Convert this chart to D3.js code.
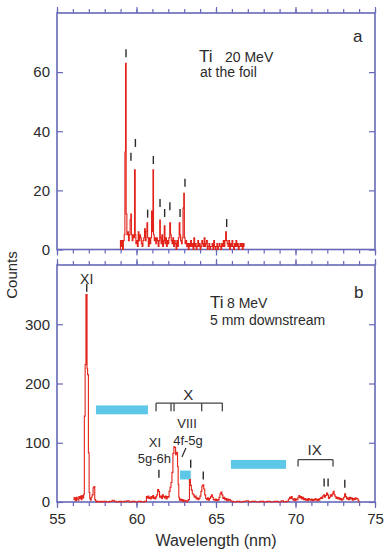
<!DOCTYPE html>
<html><head><meta charset="utf-8">
<script src="https://cdn.jsdelivr.net/npm/d3@7"></script>
<style>
body{margin:0;background:#fff}
svg{display:block}
text{font-family:"Liberation Sans",Arial,Helvetica,sans-serif}
</style>
</head><body>
<svg id="c" width="388" height="550"></svg>
<script>
// ---------- DATA ----------
const topLambda = [58.98,59.0,59.05,59.1,59.15,59.2,59.25,59.29,59.33,59.37,59.42,59.47,59.52,59.57,59.62,59.66,59.70,59.75,59.80,59.85,59.90,59.94,59.98,60.03,60.08,60.13,60.18,60.23,60.28,60.33,60.38,60.43,60.48,60.53,60.58,60.63,60.68,60.72,60.77,60.82,60.87,60.92,60.97,61.02,61.05,61.09,61.14,61.19,61.24,61.29,61.34,61.39,61.44,61.48,61.52,61.57,61.62,61.67,61.72,61.77,61.81,61.86,61.91,61.96,62.01,62.06,62.12,62.16,62.21,62.26,62.31,62.36,62.41,62.46,62.51,62.56,62.61,62.66,62.71,62.75,62.80,62.85,62.90,62.95,62.99,63.03,63.08,63.13,63.18,63.23,63.28,63.33,63.38,63.43,63.48,63.53,63.58,63.63,63.68,63.73,63.78,63.83,63.88,63.93,63.98,64.03,64.08,64.13,64.18,64.23,64.28,64.33,64.38,64.43,64.48,64.53,64.58,64.63,64.68,64.73,64.78,64.83,64.88,64.93,64.98,65.03,65.08,65.13,65.18,65.23,65.28,65.33,65.38,65.43,65.48,65.53,65.58,65.63,65.68,65.73,65.78,65.83,65.88,65.93,65.98,66.03,66.08,66.13,66.18,66.23,66.28,66.33,66.38,66.43,66.48,66.53,66.58,66.63,66.68,66.73,66.80];
const topCounts = [0,3,1,3,0,3,5,33,63,12,5,6,3,5,10,12,5,3,5,4,27,5,2,3,1,6,3,5,4,2,1,3,4,7,3,6,9,4,1,4,2,4,13,6,27,5,3,4,2,4,3,1,3,10,4,2,5,1,3,8,2,4,1,3,2,4,9,5,3,2,4,1,3,2,0,3,1,4,9,5,3,2,4,14,19,4,2,3,1,2,0,2,1,3,1,2,0,4,1,2,0,1,3,1,2,0,1,3,2,1,4,1,2,3,0,1,2,0,1,1,2,0,3,1,0,1,2,0,1,2,1,0,2,1,3,1,3,6,3,2,1,3,0,2,1,3,1,0,2,1,3,1,2,0,1,2,1,2,0,2,1];

const botLambda = [56.05,56.1,56.15,56.2,56.25,56.3,56.35,56.4,56.45,56.5,56.55,56.6,56.65,56.7,56.74,56.8,56.84,56.88,56.9,56.95,57.0,57.04,57.08,57.12,57.18,57.24,57.3,57.35,57.4,57.45,57.5,57.6,57.7,57.8,57.9,58.0,58.2,58.4,58.55,58.65,58.8,59.0,59.1,59.3,59.5,59.6,59.8,60.0,60.2,60.4,60.6,60.65,60.7,60.75,60.8,60.85,60.9,60.95,61.0,61.05,61.1,61.15,61.2,61.25,61.3,61.36,61.42,61.48,61.54,61.6,61.66,61.72,61.78,61.84,61.9,61.96,62.02,62.08,62.14,62.2,62.26,62.32,62.38,62.44,62.48,62.52,62.56,62.6,62.64,62.68,62.72,62.78,62.84,62.9,62.96,63.02,63.1,63.16,63.22,63.3,63.36,63.42,63.48,63.54,63.6,63.66,63.72,63.78,63.84,63.9,63.96,64.02,64.08,64.14,64.2,64.26,64.32,64.38,64.44,64.5,64.56,64.62,64.68,64.74,64.8,64.86,64.92,64.98,65.04,65.1,65.16,65.22,65.28,65.34,65.4,65.46,65.52,65.58,65.64,65.7,65.76,65.82,65.88,65.94,66.0,66.2,66.4,66.6,66.8,67.0,67.1,67.4,67.6,67.9,68.1,68.3,68.5,68.8,69.0,69.2,69.3,69.5,69.6,69.65,69.7,69.76,69.82,69.88,69.94,70.0,70.06,70.12,70.18,70.24,70.3,70.36,70.42,70.48,70.54,70.6,70.66,70.72,70.78,70.84,70.9,70.96,71.02,71.08,71.14,71.2,71.26,71.32,71.38,71.44,71.5,71.56,71.62,71.68,71.74,71.8,71.86,71.92,71.98,72.04,72.1,72.16,72.22,72.28,72.34,72.4,72.46,72.52,72.58,72.64,72.7,72.76,72.82,72.88,72.94,73.0,73.06,73.12,73.18,73.24,73.3,73.36,73.42,73.48,73.54,73.6,73.66,73.72,73.78,73.84,73.9,73.96,74.0];
const botCounts = [8,4,7,2,8,5,3,9,6,10,4,11,7,13,145,232,350,350,225,215,83,16,6,3,8,12,24,26,4,2,0,1,0,1,0,1,0,1,3,1,0,1,0,1,2,0,1,0,1,0,1,9,7,10,6,8,5,9,7,11,6,8,5,9,12,21,18,8,10,6,12,9,7,10,5,9,8,18,25,33,50,82,93,92,80,84,83,60,30,8,3,5,2,4,1,3,2,0,2,4,38,28,20,14,12,8,10,5,7,4,6,10,18,27,29,22,12,6,4,7,3,6,9,12,8,4,3,5,2,4,3,8,14,17,12,6,8,4,6,2,5,3,4,2,1,0,1,0,1,2,0,1,0,1,0,1,0,1,0,2,0,1,5,8,6,9,5,3,6,2,5,4,8,11,7,9,5,8,4,6,3,5,2,6,4,3,5,2,4,3,6,4,2,5,3,6,8,6,10,12,8,11,15,12,6,8,12,10,14,18,12,9,6,8,5,7,4,6,3,5,8,14,9,5,7,4,8,5,7,3,6,4,7,5,6,3,0];

const xMinorTicks = [55,56,57,58,59,60,61,62,63,64,65,66,67,68,69,70,71,72,73,74,75];
const xMajorTicks = [55,60,65,70,75];
const yTicksA = [0,20,40,60];
const yTicksB = [0,100,200,300];

// line-identification markers (wavelength, count at marker foot)
const markALambda = [59.34,59.65,59.93,60.70,61.06,61.48,61.77,62.10,62.74,63.05,65.67];
const markABase   = [65,30,34.7,10.8,28.9,14.4,11,13.3,11,21.2,7.6];
const markBLambda = [56.87,61.41,63.41,64.20,71.80,72.05,73.10];
const markBBase   = [355,41,58,38,26,26,24];

// cyan bars (wavelength start/end, count low/high)
const barStart = [57.45,62.74,65.94];
const barEnd   = [60.72,63.41,69.40];
const barLow   = [148,38,56];
const barHigh  = [163,53,71];

// brackets
const bracketNames = ["X","IX"];
const bracketFrom  = [61.23,70.16];
const bracketTo    = [65.40,72.36];
const bracketLevel = [167,71.5];
const bracketFoot  = [153,60];
const bracketLegs  = [[61.23,62.17,62.36,64.10,65.40],[70.16,72.36]];

// ---------- LAYOUT ----------
const svg = d3.select("#c");
const frameColor = "#6768b8";
const red = "#e2231a";
const ink = "#2b2b2b";
const cyan = "#5cc7e6";
const X0 = 57, X1 = 375;
const A = {top:13, bottom:249.5};
const B = {top:265, bottom:502};

const x = d3.scaleLinear().domain([55,75]).range([X0,X1]);
const yA = d3.scaleLinear().domain([0,80]).range([A.bottom,A.top]);
const yB = d3.scaleLinear().domain([0,400]).range([B.bottom,B.top]);

function styleAxis(g){
  g.select(".domain").remove();
  g.selectAll(".tick line").attr("stroke",frameColor).attr("stroke-width",1.2);
  g.selectAll(".tick text").attr("fill",ink).style("font-size","15px")
    .style("font-family",'"Liberation Sans",Arial,sans-serif');
}

function panel(y, P, ticks, labelsX){
  svg.append("g").attr("transform",`translate(0,${P.top})`)
    .call(d3.axisTop(x).tickValues(xMinorTicks).tickSize(4).tickFormat(""))
    .call(styleAxis);
  svg.append("g").attr("transform",`translate(0,${P.top})`)
    .call(d3.axisTop(x).tickValues(xMajorTicks).tickSize(6).tickFormat(""))
    .call(styleAxis);
  svg.append("g").attr("transform",`translate(0,${P.bottom})`)
    .call(d3.axisBottom(x).tickValues(xMinorTicks).tickSize(4).tickFormat(""))
    .call(styleAxis);
  svg.append("g").attr("transform",`translate(0,${P.bottom})`)
    .call(d3.axisBottom(x).tickValues(xMajorTicks).tickSize(6).tickPadding(5)
      .tickFormat(labelsX ? d3.format("d") : ""))
    .call(styleAxis);
  svg.append("g").attr("transform",`translate(${X0},0)`)
    .call(d3.axisLeft(y).tickValues(ticks).tickSize(-6).tickPadding(7).tickFormat(d3.format("d")))
    .call(styleAxis);
  svg.append("g").attr("transform",`translate(${X1},0)`)
    .call(d3.axisRight(y).tickValues(ticks).tickSize(-6).tickFormat(""))
    .call(styleAxis);
  svg.append("rect").attr("x",X0).attr("y",P.top).attr("width",X1-X0).attr("height",P.bottom-P.top)
    .attr("fill","none").attr("stroke",frameColor).attr("stroke-width",1.6);
}

panel(yA, A, yTicksA, false);
panel(yB, B, yTicksB, true);

const lineA = d3.line().x((d,i)=>x(topLambda[i])).y(d=>yA(d)).curve(d3.curveStep);
svg.append("path").attr("d",lineA(topCounts)).attr("fill","none").attr("stroke",red).attr("stroke-width",1.1);

svg.append("g").selectAll("rect").data(barStart).join("rect")
  .attr("x",(d,i)=>x(d)).attr("width",(d,i)=>x(barEnd[i])-x(d))
  .attr("y",(d,i)=>yB(barHigh[i])).attr("height",(d,i)=>yB(barLow[i])-yB(barHigh[i]))
  .attr("fill",cyan);

const lineB = d3.line().x((d,i)=>x(botLambda[i])).y(d=>yB(d)).curve(d3.curveStep);
svg.append("path").attr("d",lineB(botCounts)).attr("fill","none").attr("stroke",red).attr("stroke-width",1.1);

svg.append("g").selectAll("line").data(markALambda).join("line")
  .attr("x1",d=>x(d)).attr("x2",d=>x(d))
  .attr("y1",(d,i)=>yA(markABase[i])).attr("y2",(d,i)=>yA(markABase[i])-8)
  .attr("stroke",ink).attr("stroke-width",1.4);
svg.append("g").selectAll("line").data(markBLambda).join("line")
  .attr("x1",d=>x(d)).attr("x2",d=>x(d))
  .attr("y1",(d,i)=>yB(markBBase[i])).attr("y2",(d,i)=>yB(markBBase[i])-8)
  .attr("stroke",ink).attr("stroke-width",1.4);
svg.append("line").attr("x1",x(62.86)).attr("y1",yB(76)).attr("x2",x(63.11)).attr("y2",yB(91))
  .attr("stroke",ink).attr("stroke-width",1.2);

bracketNames.forEach((n,k)=>{
  const g = svg.append("g").attr("stroke","#444").attr("stroke-width",1.3).attr("fill","none");
  g.append("line").attr("x1",x(bracketFrom[k])).attr("x2",x(bracketTo[k]))
    .attr("y1",yB(bracketLevel[k])).attr("y2",yB(bracketLevel[k]));
  bracketLegs[k].forEach(l=>{
    g.append("line").attr("x1",x(l)).attr("x2",x(l))
      .attr("y1",yB(bracketLevel[k])).attr("y2",yB(bracketFoot[k]));
  });
});

function txt(xp,yp,s,size,anchor){
  return svg.append("text").attr("x",xp).attr("y",yp).attr("fill",ink)
    .style("font-size",size+"px").attr("text-anchor",anchor||"start").text(s);
}
txt(199,62,"Ti",17);
txt(225,62,"20 MeV",14);
txt(200,77,"at the foil",14);
txt(353,42,"a",17);
txt(210,308,"Ti",17);
txt(227,308,"8 MeV",14);
txt(210,325,"5 mm downstream",14);
txt(354,298,"b",17);
txt(x(56.87),yB(368),"XI",14,"middle");
txt(x(63.25),yB(172),"X",15,"middle");
txt(x(71.2),yB(80),"IX",15,"middle");
txt(x(63.18),yB(125.5),"VIII",13,"middle");
txt(x(63.24),yB(97),"4f-5g",13,"middle");
txt(x(61.16),yB(92),"XI",13,"middle");
txt(x(61.13),yB(66),"5g-6h",13,"middle");

svg.append("text").attr("transform","translate(17,275) rotate(-90)").attr("text-anchor","middle")
  .attr("fill",ink).style("font-size","15px").text("Counts");
txt((X0+X1)/2,546,"Wavelength (nm)",16,"middle");
</script>
</body></html>
